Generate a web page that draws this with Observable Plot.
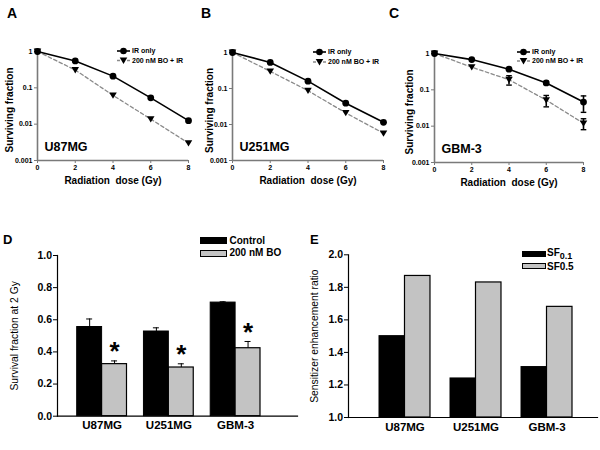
<!DOCTYPE html>
<html><head><meta charset="utf-8">
<script src="https://cdn.jsdelivr.net/npm/d3@7"></script>
<script src="https://cdn.jsdelivr.net/npm/@observablehq/plot@0.6"></script>
<style>
body{margin:0;background:#fff;}
#root{position:relative;width:600px;height:450px;overflow:hidden;background:#fff;font-family:"Liberation Sans",Arial,sans-serif;color:#000;}
.abs{position:absolute;}
.letter{position:absolute;font-weight:bold;font-size:14px;line-height:1;}
.lg{position:absolute;font-weight:bold;font-size:10px;line-height:1;white-space:nowrap;}
.box{position:absolute;box-sizing:border-box;}
</style></head><body><div id="root"></div>
<script>
// ---------- data ----------
const doses = [0, 2, 4, 6, 8];
const doseTicks = [0, 2, 4, 6, 8];
const sfTicks = [0.001, 0.01, 0.1, 1];
const sfTickLabels = ["0.001", "0.01", "0.1", "1"];
const seriesNames = ["IR only", "200 nM BO + IR"];

const u87_ir = [1, 0.55, 0.21, 0.053, 0.0125];
const u87_bo = [1, 0.31, 0.062, 0.0138, 0.0030];
const u251_ir = [1, 0.53, 0.16, 0.039, 0.0115];
const u251_bo = [1, 0.30, 0.087, 0.021, 0.0057];
const gbm_ir = [1, 0.68, 0.37, 0.155, 0.046];
const gbm_bo = [1, 0.42, 0.19, 0.052, 0.012];
const gbm_ir_err = [0, 0, 0, 0.015, 0.022];
const gbm_bo_err = [0, 0, 0.055, 0.018, 0.004];

const cells = ["U87MG", "U251MG", "GBM-3"];
const sf2Groups = ["Control", "200 nM BO"];
const sf2_control = [0.555, 0.527, 0.707];
const sf2_control_err = [0.05, 0.023, 0.005];
const sf2_bo = [0.324, 0.303, 0.423];
const sf2_bo_err = [0.02, 0.023, 0.042];
const sf2Ticks = [0, 0.2, 0.4, 0.6, 0.8, 1.0];
const sf2TickLabels = ["0.0", "0.2", "0.4", "0.6", "0.8", "1.0"];

const serGroups = ["SF0.1", "SF0.5"];
const ser_sf01 = [1.50, 1.24, 1.31];
const ser_sf05 = [1.87, 1.83, 1.68];
const serTicks = [1.0, 1.2, 1.4, 1.6, 1.8, 2.0];
const serTickLabels = ["1.0", "1.2", "1.4", "1.6", "1.8", "2.0"];

// ---------- helpers ----------
const FONT = "Liberation Sans, Arial, sans-serif";
const root = document.getElementById("root");
function place(el, left, top) {
  el.style.position = "absolute"; el.style.left = left + "px"; el.style.top = top + "px";
  root.appendChild(el); return el;
}
const triDown = {draw(ctx, size) {
  const r = Math.sqrt(size / Math.PI);
  ctx.moveTo(-r * 1.05, -r * 0.8); ctx.lineTo(r * 1.05, -r * 0.8); ctx.lineTo(0, r * 0.95); ctx.closePath();
}};
const GRAYAX = "#7a7a7a";

function survivalPanel({ir, bo, irErr, boErr, cell, ml, mr, mt, mb}) {
  const irData = doses.map((d, i) => ({dose: d, sf: ir[i], err: irErr ? irErr[i] : 0}));
  const boData = doses.map((d, i) => ({dose: d, sf: bo[i], err: boErr ? boErr[i] : 0}));
  const errs = irData.concat(boData).filter(d => d.err > 0);
  return Plot.plot({
    width: 200, height: 200, marginLeft: ml, marginRight: mr, marginTop: mt, marginBottom: mb,
    style: {fontFamily: FONT, fontWeight: "bold", background: "transparent", overflow: "visible", color: "black"},
    x: {domain: [0, 8]},
    y: {type: "log", domain: [0.001, 1]},
    marks: [
      Plot.ruleY([0.001], {stroke: GRAYAX, strokeWidth: 1.6}),
      Plot.ruleX([0], {stroke: GRAYAX, strokeWidth: 1.6}),
      Plot.axisX({ticks: doseTicks, tickSize: 3, tickPadding: 2, stroke: GRAYAX, fill: "black", fontSize: 7, fontWeight: "bold", label: null}),
      Plot.axisY({ticks: sfTicks, tickFormat: d => sfTickLabels[sfTicks.indexOf(d)], tickSize: 3, tickPadding: 2, stroke: GRAYAX, fill: "black", fontSize: 7, fontWeight: "bold", label: null}),
      Plot.line(boData, {x: "dose", y: "sf", stroke: "#8a8a8a", strokeWidth: 1.3, strokeDasharray: "3.5,2.5"}),
      Plot.line(irData, {x: "dose", y: "sf", stroke: "black", strokeWidth: 1.6}),
      Plot.ruleX(errs, {x: "dose", y1: d => d.sf - d.err, y2: d => d.sf + d.err, stroke: "black", strokeWidth: 1.6}),
      Plot.link(errs, {x1: d => d.dose - 0.15, x2: d => d.dose + 0.15, y1: d => d.sf + d.err, y2: d => d.sf + d.err, stroke: "black", strokeWidth: 1.4}),
      Plot.link(errs, {x1: d => d.dose - 0.15, x2: d => d.dose + 0.15, y1: d => d.sf - d.err, y2: d => d.sf - d.err, stroke: "black", strokeWidth: 1.4}),
      Plot.dot(boData, {x: "dose", y: "sf", symbol: triDown, r: 3.6, fill: "black", stroke: "none"}),
      Plot.dot(irData, {x: "dose", y: "sf", r: 3.4, fill: "black", stroke: "none"}),
      Plot.text(["Surviving fraction"], {text: d => d, frameAnchor: "left", textAnchor: "middle", dx: -(ml - 9), dy: 4, rotate: -90, fontSize: 10, fontWeight: "bold"}),
      Plot.text(["Radiation\u00a0 dose (Gy)"], {text: d => d, frameAnchor: "bottom", dy: 23, fontSize: 10, fontWeight: "bold"}),
      Plot.text([cell], {text: d => d, frameAnchor: "bottom-left", dx: 7, dy: -10, textAnchor: "start", fontSize: 12.5, fontWeight: "bold"})
    ]
  });
}

function survLegend(x0, y0, y1) {
  const svg = d3.create("svg").attr("width", 90).attr("height", 24)
    .style("position", "absolute").style("left", (x0 - 4) + "px").style("top", (y0 - 6) + "px").style("overflow", "visible");
  const g = svg.append("g").attr("transform", `translate(4,6)`);
  g.append("line").attr("x1", 0).attr("x2", 13).attr("y1", 0).attr("y2", 0).attr("stroke", "black").attr("stroke-width", 1.6);
  g.append("circle").attr("cx", 6.5).attr("cy", 0).attr("r", 3.3).attr("fill", "black");
  const dy = y1 - y0;
  g.append("line").attr("x1", 0).attr("x2", 13).attr("y1", dy).attr("y2", dy).attr("stroke", "#8a8a8a").attr("stroke-width", 1.3).attr("stroke-dasharray", "3,2");
  g.append("path").attr("d", `M${6.5 - 3.8},${dy - 2.9}L${6.5 + 3.8},${dy - 2.9}L6.5,${dy + 3.4}Z`).attr("fill", "black");
  [0, dy].forEach((y, i) => g.append("text").attr("x", 15).attr("y", y).attr("dy", "0.35em")
    .attr("font-family", FONT).attr("font-weight", "bold").attr("font-size", 7).text(seriesNames[i]));
  root.appendChild(svg.node());
}

// ---------- panels A-C ----------
place(survivalPanel({ir: u87_ir, bo: u87_bo, cell: "U87MG", ml: 37, mr: 12, mt: 51, mb: 40}), 0, 0);
place(survivalPanel({ir: u251_ir, bo: u251_bo, cell: "U251MG", ml: 32, mr: 17, mt: 52, mb: 40}), 200, 0);
place(survivalPanel({ir: gbm_ir, bo: gbm_bo, irErr: gbm_ir_err, boErr: gbm_bo_err, cell: "GBM-3", ml: 34, mr: 17, mt: 53, mb: 38}), 400, 0);
survLegend(117, 50.5, 60);
survLegend(313, 52, 62);
survLegend(517, 52, 61);

// ---------- grouped bar panels ----------
function barPanel({aData, bData, aFill, bFill, yDomain, ticks, tickLabels, ytitle, ml, mt, mb, range, padIn, errors, stars}) {
  const bw = (range[1] - range[0]) / (cells.length - padIn) * (1 - padIn);
  const marks = [
    Plot.barY(aData, {x: "cell", y1: yDomain[0], y2: "v", fill: aFill, stroke: "black", strokeWidth: 1, insetRight: bw / 2}),
    Plot.barY(bData, {x: "cell", y1: yDomain[0], y2: "v", fill: bFill, stroke: "black", strokeWidth: 1.2, insetLeft: bw / 2}),
    Plot.frame({anchor: "left", stroke: "black", strokeWidth: 1.2}),
    Plot.frame({anchor: "bottom", stroke: "black", strokeWidth: 1.2}),
    Plot.axisY({ticks, tickFormat: d => tickLabels[ticks.indexOf(d)], tickSize: 4, tickPadding: 1.5, fontSize: 10.5, fontWeight: "bold", label: null}),
    Plot.axisX({tickSize: 0, tickPadding: 5, fontSize: 11.5, fontWeight: "bold", label: null}),
    Plot.text([ytitle], {text: d => d, frameAnchor: "left", textAnchor: "middle", dx: -(ml - 14), rotate: -90, fontSize: 10.3, fontWeight: "normal"})
  ];
  if (errors) {
    [[aData, -bw / 4], [bData, bw / 4]].forEach(([data, off]) => {
      marks.push(Plot.ruleX(data, {x: "cell", y1: "v", y2: d => d.v + d.e, dx: off, stroke: "black", strokeWidth: 1}));
      marks.push(Plot.tickY(data, {x: "cell", y: d => d.v + d.e, insetLeft: bw / 2 + off - 3, insetRight: bw / 2 - off - 3, stroke: "black", strokeWidth: 1}));
    });
  }
  if (stars) {
    marks.push(Plot.text(bData, {x: "cell", y: d => d.v + d.e + 0.1, text: () => "*", dx: bw / 4, dy: 7, fontSize: 26, fontWeight: "bold"}));
  }
  return Plot.plot({
    width: 300, height: 220, marginLeft: ml, marginRight: 3, marginTop: mt, marginBottom: mb,
    style: {fontFamily: FONT, fontWeight: "bold", background: "transparent", overflow: "visible", color: "black"},
    x: {domain: cells, range, paddingInner: padIn, paddingOuter: 0, round: false},
    y: {domain: yDomain},
    marks
  });
}

const dA = cells.map((c, i) => ({cell: c, group: sf2Groups[0], v: sf2_control[i], e: sf2_control_err[i]}));
const dB = cells.map((c, i) => ({cell: c, group: sf2Groups[1], v: sf2_bo[i], e: sf2_bo_err[i]}));
place(barPanel({aData: dA, bData: dB, aFill: "black", bFill: "#c3c3c3", yDomain: [0, 1], ticks: sf2Ticks, tickLabels: sf2TickLabels,
  ytitle: "Survival fraction at 2 Gy", ml: 57, mt: 25, mb: 34.3, range: [76.7, 260], padIn: 0.254, errors: true, stars: true}), 0, 230);

const eA = cells.map((c, i) => ({cell: c, group: serGroups[0], v: ser_sf01[i]}));
const eB = cells.map((c, i) => ({cell: c, group: serGroups[1], v: ser_sf05[i]}));
place(barPanel({aData: eA, bData: eB, aFill: "black", bFill: "#c3c3c3", yDomain: [1, 2], ticks: serTicks, tickLabels: serTickLabels,
  ytitle: "Sensitizer enhancement ratio", ml: 48, mt: 24.3, mb: 33, range: [79, 272], padIn: 0.282, errors: false, stars: false}), 300, 230);

// ---------- legends D, E ----------
function box(left, top, w, h, fill, border) {
  const b = document.createElement("div"); b.className = "box";
  b.style.width = w + "px"; b.style.height = h + "px"; b.style.background = fill;
  if (border) b.style.border = "1px solid black";
  return place(b, left, top);
}
function label(html, left, top, size) {
  const t = document.createElement("div"); t.className = "lg"; t.innerHTML = html;
  if (size) t.style.fontSize = size + "px";
  return place(t, left, top);
}
box(200, 237, 27, 7, "black");
box(200, 249.5, 27, 7, "#c3c3c3", true);
label(sf2Groups[0], 229.5, 235.5);
label(sf2Groups[1], 229.5, 248);

box(521.5, 250.5, 24, 6.5, "black");
box(521.5, 262.7, 24, 6.8, "#c3c3c3", true);
label('SF<span style="font-size:9px;position:relative;top:3px">0.1</span>', 547, 248);
label(serGroups[1], 547, 262);

// ---------- panel letters ----------
[["A", 7, 6], ["B", 201, 6], ["C", 389, 6], ["D", 3, 233], ["E", 310, 233]].forEach(([t, x, y]) => {
  const d = document.createElement("div"); d.className = "letter"; d.textContent = t;
  if (t === "D" || t === "E") d.style.fontSize = "13px";
  place(d, x, y);
});
</script></body></html>
